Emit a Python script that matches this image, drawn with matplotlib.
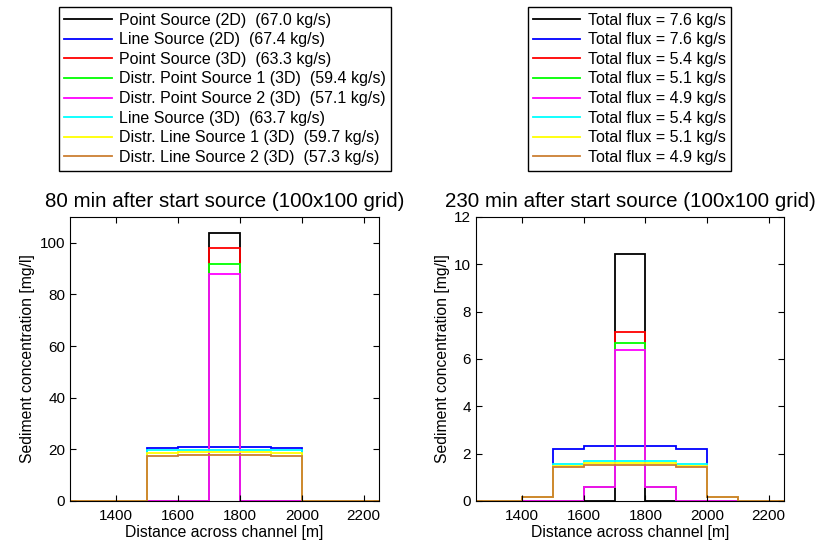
import numpy as np
import matplotlib
matplotlib.use('Agg')
import matplotlib.pyplot as plt

plt.rcParams['font.family'] = ['Liberation Sans', 'DejaVu Sans']

# cell edges across the channel [m] (100 m grid cells)
bordas = [1200, 1300, 1400, 1500, 1600, 1700, 1800, 1900, 2000, 2100, 2200, 2300]

cores = ['#000000', '#0000ff', '#ff0000', '#00ff00', '#ff00ff', '#00ffff', '#ffff00', '#cc7f33']

nomes = ['Point Source (2D)', 'Line Source (2D)', 'Point Source (3D)',
         'Distr. Point Source 1 (3D)', 'Distr. Point Source 2 (3D)',
         'Line Source (3D)', 'Distr. Line Source 1 (3D)', 'Distr. Line Source 2 (3D)']
fluxo_80 = [67.0, 67.4, 63.3, 59.4, 57.1, 63.7, 59.7, 57.3]
fluxo_230 = [7.6, 7.6, 5.4, 5.1, 4.9, 5.4, 5.1, 4.9]

# concentration per cell [mg/l], 80 min after start
conc_80 = [
    [0, 0, 0, 0, 0, 103.8, 0, 0, 0, 0, 0],
    [0, 0, 0, 20.6, 21.0, 21.0, 21.0, 20.6, 0, 0, 0],
    [0, 0, 0, 0, 0, 98.1, 0, 0, 0, 0, 0],
    [0, 0, 0, 0, 0, 91.8, 0, 0, 0, 0, 0],
    [0, 0, 0, 0, 0, 87.9, 0, 0, 0, 0, 0],
    [0, 0, 0, 19.6, 19.9, 19.9, 19.9, 19.6, 0, 0, 0],
    [0, 0, 0, 18.6, 19.0, 19.0, 19.0, 18.6, 0, 0, 0],
    [0, 0, 0, 17.5, 18.0, 18.0, 18.0, 17.5, 0, 0, 0],
]

# concentration per cell [mg/l], 230 min after start
conc_230 = [
    [0, 0, 0, 0, 0, 10.45, 0, 0, 0, 0, 0],
    [0, 0, 0.15, 2.20, 2.34, 2.34, 2.34, 2.20, 0.15, 0, 0],
    [0, 0, 0, 0, 0.6, 7.13, 0.6, 0, 0, 0, 0],
    [0, 0, 0, 0, 0.6, 6.66, 0.6, 0, 0, 0, 0],
    [0, 0, 0, 0, 0.59, 6.40, 0.59, 0, 0, 0, 0],
    [0, 0, 0.18, 1.55, 1.69, 1.69, 1.69, 1.55, 0.18, 0, 0],
    [0, 0, 0.15, 1.50, 1.60, 1.60, 1.60, 1.50, 0.15, 0, 0],
    [0, 0, 0.15, 1.44, 1.51, 1.51, 1.51, 1.44, 0.15, 0, 0],
]

fig = plt.figure(figsize=(8.16, 5.45), dpi=100)
ax1 = fig.add_axes([70/816, 1-501/545, 309/816, 284/545])
ax2 = fig.add_axes([476/816, 1-501/545, 308/816, 284/545])

def desenha(ax, dados, titulo, ymax, yticks):
    linhas = []
    for vals, cor in zip(dados, cores):
        ln = ax.stairs(vals, bordas, color=cor, lw=1.3, baseline=None)
        linhas.append(ln)
    ax.set_xlim(1250, 2250)
    ax.set_ylim(0, ymax)
    ax.set_xticks([1400, 1600, 1800, 2000, 2200])
    ax.set_yticks(yticks)
    ax.tick_params(direction='in', top=True, right=True, labelsize=11, length=4)
    ax.tick_params(axis='x', pad=6)
    ax.set_title(titulo, fontsize=14.8, pad=7)
    ax.set_xlabel('Distance across channel [m]', fontsize=11.3, labelpad=1)
    ax.set_ylabel('Sediment concentration [mg/l]', fontsize=11.3, labelpad=3)
    return linhas

h1 = desenha(ax1, conc_80, '80 min after start source (100x100 grid)', 110, [0, 20, 40, 60, 80, 100])
h2 = desenha(ax2, conc_230, '230 min after start source (100x100 grid)', 12, [0, 2, 4, 6, 8, 10, 12])

proxies = [plt.Line2D([], [], color=c, lw=1.3) for c in cores]
rotulos1 = [n + '  (%.1f kg/s)' % f for n, f in zip(nomes, fluxo_80)]
rotulos2 = ['Total flux = %.1f kg/s' % f for f in fluxo_230]

for rot, cx in [(rotulos1, 225/816), (rotulos2, 629.5/816)]:
    leg = fig.legend(proxies, rot, loc='upper center', bbox_to_anchor=(cx, 1-7/545),
                     fontsize=11.5, frameon=True, fancybox=False, framealpha=1,
                     handlelength=2.95, handletextpad=0.45, labelspacing=0.29,
                     borderpad=0.35, borderaxespad=0)
    leg.get_frame().set_edgecolor('black')
    leg.get_frame().set_linewidth(1.0)

fig.savefig('out.png', dpi=100)
